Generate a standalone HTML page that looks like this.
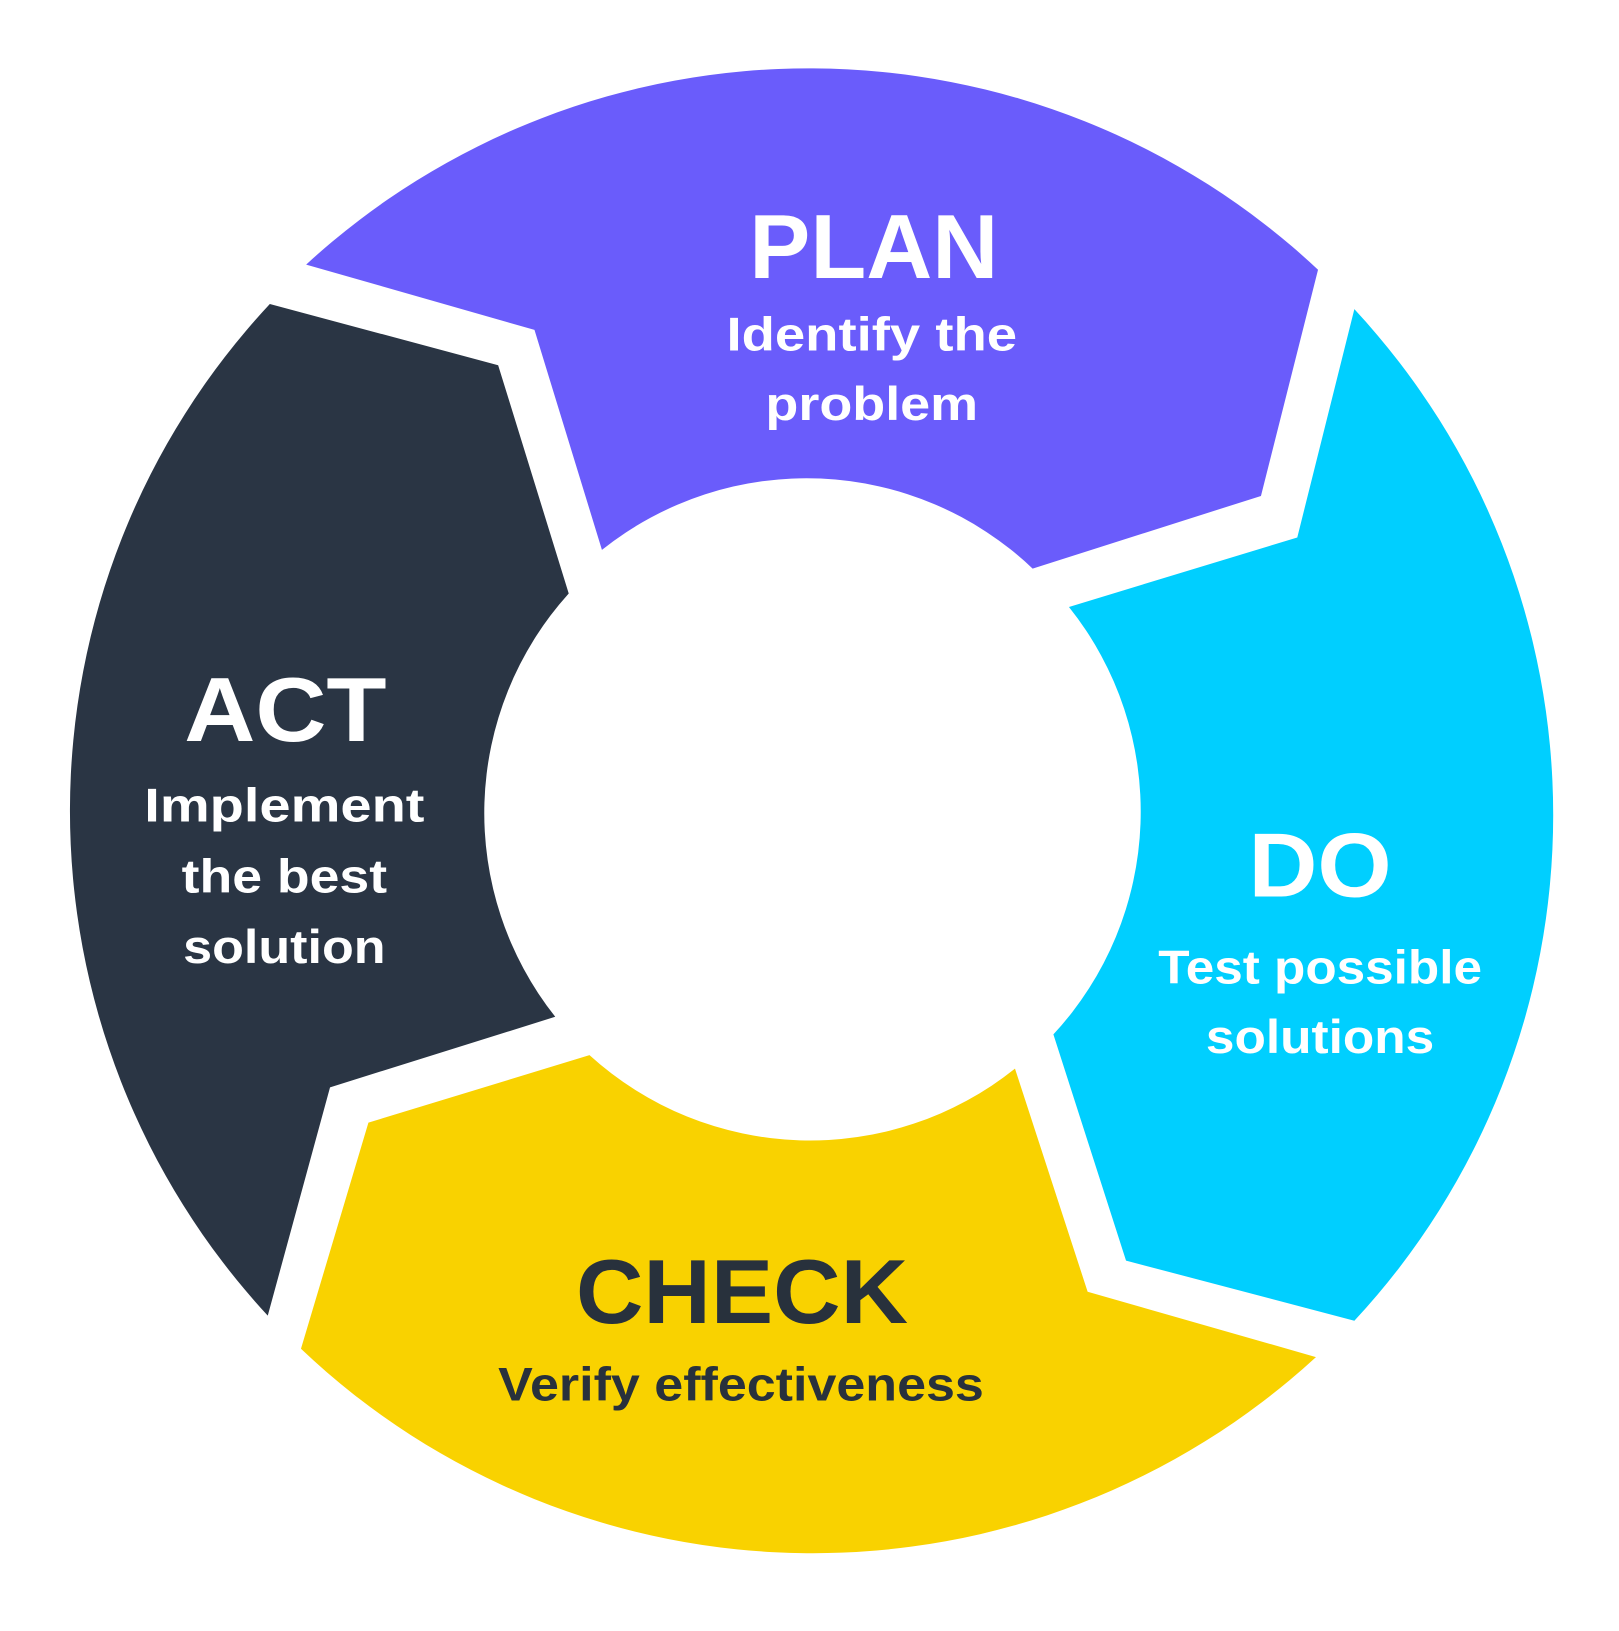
<!DOCTYPE html>
<html><head><meta charset="utf-8"><style>html,body{margin:0;padding:0;background:#fff}svg{display:block}</style></head>
<body>
<svg width="1619" height="1631" viewBox="0 0 1560 1572" preserveAspectRatio="none" xmlns="http://www.w3.org/2000/svg">
<rect width="1560" height="1572" fill="#fff"/>
<path d="M295,255 L515,318 L580,530 A316,316 0 0 1 995,548 L1215,478 L1270,260 A716,716 0 0 0 295,255 Z" fill="#6a5cfb"/>
<path d="M260,293 L480,352 L548,572 A316,316 0 0 0 535,980 L318,1048 L258,1268 A716,716 0 0 1 260,293 Z" fill="#2a3544"/>
<path d="M290,1300 L355,1082 L568,1017 A316,316 0 0 0 978,1030 L1048,1245 L1268,1308 A716,716 0 0 1 290,1300 Z" fill="#f9d200"/>
<path d="M1305,298 L1250,518 L1030,585 A316,316 0 0 1 1015,997 L1085,1215 L1305,1273 A716,716 0 0 0 1305,298 Z" fill="#00cfff"/>
<g font-family="Liberation Sans, sans-serif" text-anchor="middle">
<g fill="#fff">
<text x="842" y="268" font-size="88" font-weight="bold" textLength="240" lengthAdjust="spacingAndGlyphs">PLAN</text>
<text x="840" y="338" font-size="46" font-weight="bold" textLength="280" lengthAdjust="spacingAndGlyphs">Identify the</text>
<text x="840" y="405" font-size="46" font-weight="bold" textLength="205" lengthAdjust="spacingAndGlyphs">problem</text>
<text x="275" y="714" font-size="88" font-weight="bold" textLength="195" lengthAdjust="spacingAndGlyphs">ACT</text>
<text x="274" y="792" font-size="46" font-weight="bold" textLength="270" lengthAdjust="spacingAndGlyphs">Implement</text>
<text x="274" y="860" font-size="46" font-weight="bold" textLength="198" lengthAdjust="spacingAndGlyphs">the best</text>
<text x="274" y="928" font-size="46" font-weight="bold" textLength="195" lengthAdjust="spacingAndGlyphs">solution</text>
<text x="1272" y="864" font-size="88" font-weight="bold" textLength="138" lengthAdjust="spacingAndGlyphs">DO</text>
<text x="1272" y="948" font-size="46" font-weight="bold" textLength="312" lengthAdjust="spacingAndGlyphs">Test possible</text>
<text x="1272" y="1015" font-size="46" font-weight="bold" textLength="220" lengthAdjust="spacingAndGlyphs">solutions</text>
</g>
<g fill="#28313c">
<text x="715" y="1275" font-size="88" font-weight="bold" textLength="320" lengthAdjust="spacingAndGlyphs">CHECK</text>
<text x="714" y="1350" font-size="46" font-weight="bold" textLength="468" lengthAdjust="spacingAndGlyphs">Verify effectiveness</text>
</g>
</g>
</svg>
</body></html>
